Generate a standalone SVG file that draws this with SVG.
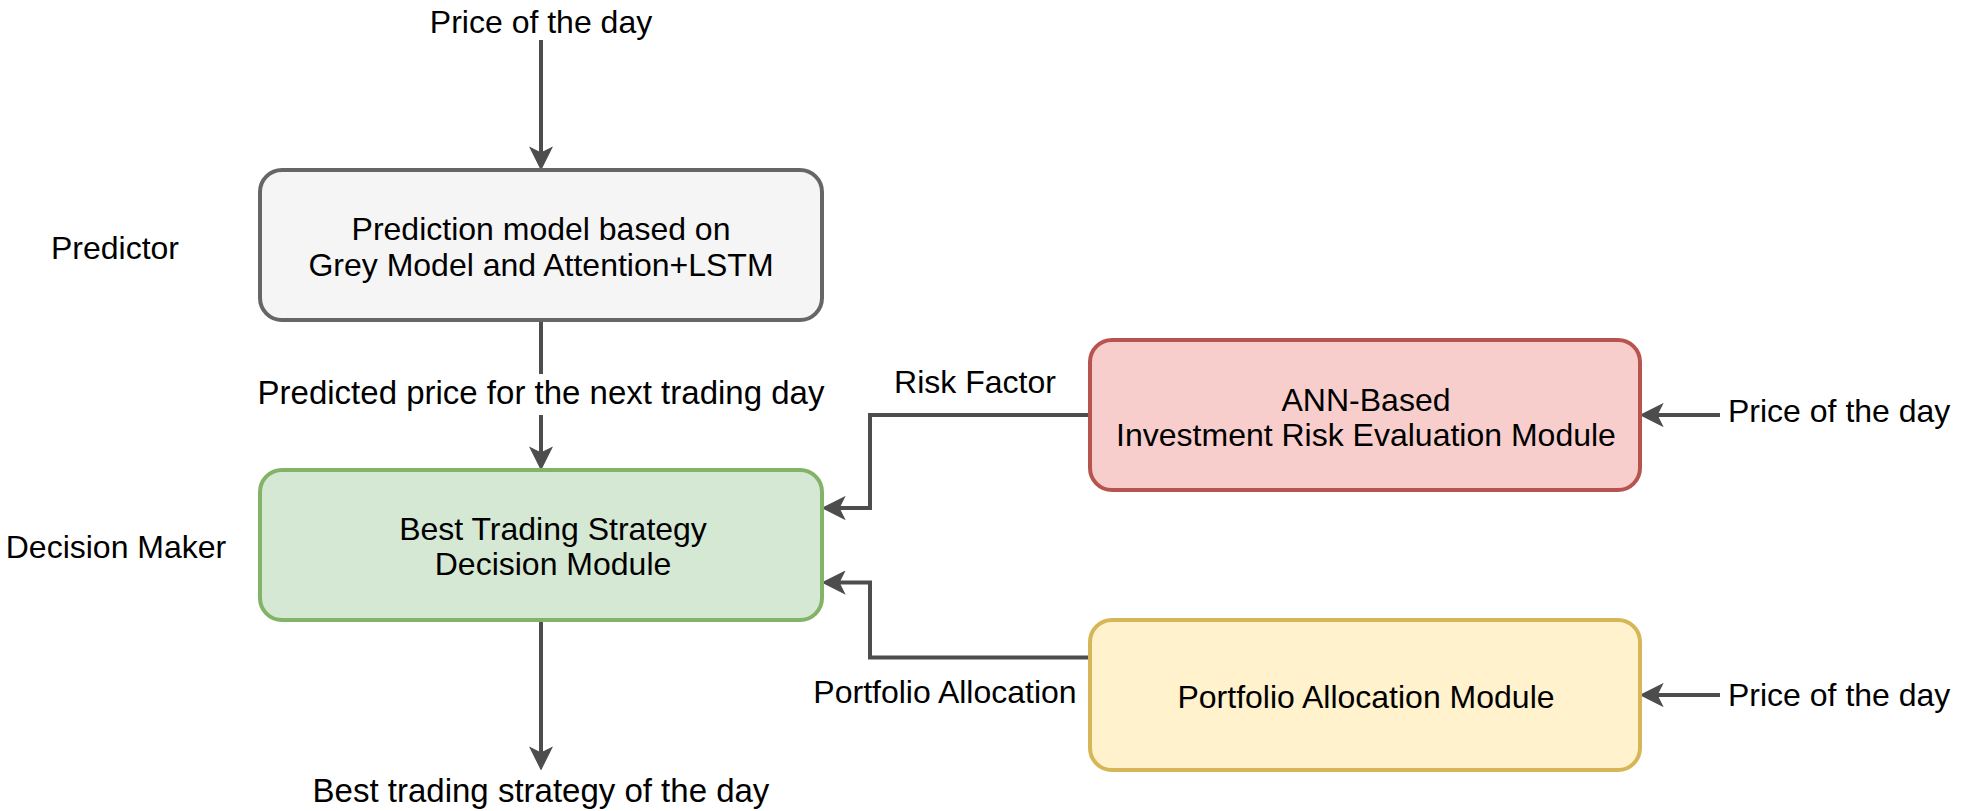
<svg xmlns="http://www.w3.org/2000/svg" width="1961" height="811" viewBox="0 0 1961 811">
<style>
  text { font-family: "Liberation Sans", Arial, sans-serif; font-size: 32px; fill: #000; }
  .c { text-anchor: middle; }
  .w { font-size: 33px; }
  .box { stroke-width: 4; }
  .conn { fill: none; stroke: #4d4d4d; stroke-width: 4; marker-end: url(#arr); }
</style>
<defs>
  <marker id="arr" markerUnits="userSpaceOnUse" markerWidth="24" markerHeight="24" viewBox="-1 -11 22 22" refX="5" refY="0" orient="auto">
    <path d="M0,-10 L20,0 L0,10 L5,0 Z" fill="#4d4d4d" stroke="#4d4d4d" stroke-width="1" stroke-linejoin="miter"/>
  </marker>
</defs>
<rect width="1961" height="811" fill="#ffffff"/>

<g id="connectors">
  <path class="conn" d="M541,40 V153"/>
  <path class="conn" d="M541,320 V453"/>
  <path class="conn" d="M541,620 V753"/>
  <path class="conn" d="M1088,415 H870 V508 H839"/>
  <path class="conn" d="M1088,657.5 H870 V582.5 H839"/>
  <path class="conn" d="M1720,415 H1657"/>
  <path class="conn" d="M1720,695 H1657"/>
</g>

<g id="label-price-top"><text class="c" x="541" y="33">Price of the day</text></g>
<g id="label-predicted">
  <rect x="255" y="374" width="572" height="41" fill="#ffffff"/>
  <text class="c w" x="541" y="404">Predicted price for the next trading day</text>
</g>
<g id="label-best"><text class="c w" x="541" y="802">Best trading strategy of the day</text></g>
<g id="label-risk"><text class="c" x="975" y="393">Risk Factor</text></g>
<g id="label-portfolio"><text class="c" x="945" y="703">Portfolio Allocation</text></g>
<g id="label-price-risk"><text x="1728" y="422">Price of the day</text></g>
<g id="label-price-portfolio"><text x="1728" y="706">Price of the day</text></g>
<g id="label-predictor"><text class="c" x="115" y="259">Predictor</text></g>
<g id="label-decision-maker"><text class="c" x="116" y="558">Decision Maker</text></g>

<g id="node-prediction">
  <rect class="box" x="260" y="170" width="562" height="150" rx="22" ry="22" fill="#f5f5f5" stroke="#666666"/>
  <text class="c" x="541" y="240">Prediction model based on</text>
  <text class="c" x="541" y="276">Grey Model and Attention+LSTM</text>
</g>
<g id="node-decision">
  <rect class="box" x="260" y="470" width="562" height="150" rx="22" ry="22" fill="#d5e8d4" stroke="#82b366"/>
  <text class="c" x="553" y="540">Best Trading Strategy</text>
  <text class="c" x="553" y="575">Decision Module</text>
</g>
<g id="node-risk">
  <rect class="box" x="1090" y="340" width="550" height="150" rx="22" ry="22" fill="#f8cecc" stroke="#b85450"/>
  <text class="c" x="1366" y="411">ANN-Based</text>
  <text class="c" x="1366" y="446">Investment Risk Evaluation Module</text>
</g>
<g id="node-portfolio">
  <rect class="box" x="1090" y="620" width="550" height="150" rx="22" ry="22" fill="#fff2cc" stroke="#d6b656"/>
  <text class="c" x="1366" y="708">Portfolio Allocation Module</text>
</g>
</svg>
